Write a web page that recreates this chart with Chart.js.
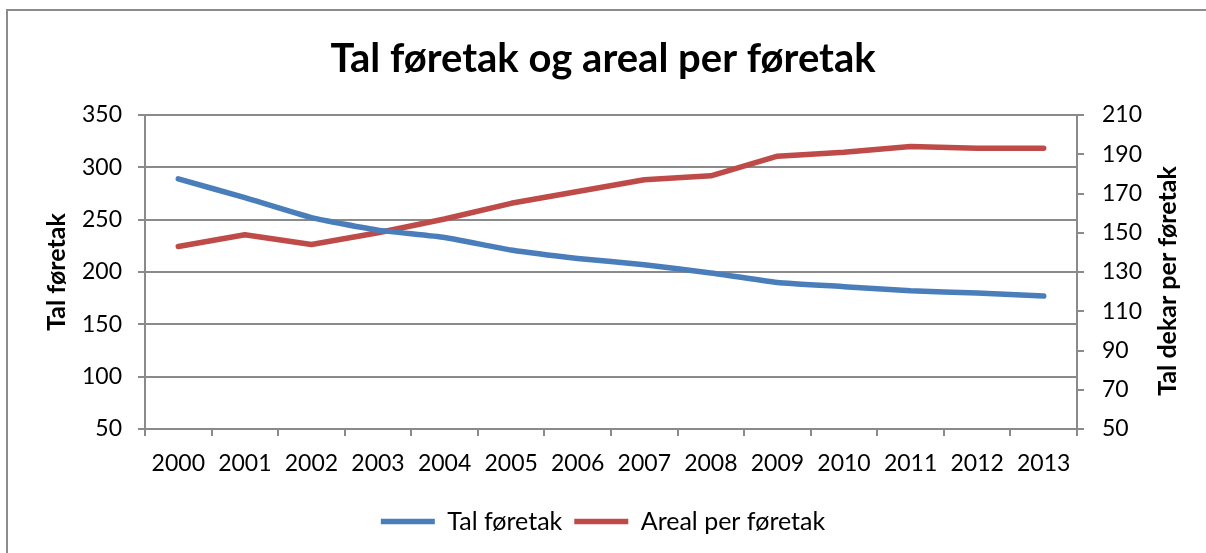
<!DOCTYPE html>
<html>
<head>
<meta charset="utf-8">
<script src="https://cdn.jsdelivr.net/npm/chart.js@4.4.0/dist/chart.umd.min.js"></script>
<style>
  html, body { margin: 0; padding: 0; background: #fff; overflow: hidden; }
  #wrap { position: relative; width: 1206px; height: 553px; }
  #frame { position: absolute; left: 6px; top: 9px; width: 1220px; height: 600px; border: 2px solid #8c8c8c; box-sizing: border-box; }
  canvas { position: absolute; left: 0; top: 0; }
</style>
</head>
<body>
<div id="wrap">
  <div id="frame"></div>
  <canvas id="chart" width="1206" height="553"></canvas>
</div>
<script>
const years = ['2000', '2001', '2002', '2003', '2004', '2005', '2006', '2007', '2008', '2009', '2010', '2011', '2012', '2013'];
const talForetak = [289, 271, 252, 240, 233, 221, 213, 207, 199, 190, 186, 182, 180, 177];
const arealPerForetak = [143, 149, 144, 150, 157, 165, 171, 177, 179, 189, 191, 194, 193, 193];
const leftTicks = [50, 100, 150, 200, 250, 300, 350];
const rightTicks = [50, 70, 90, 110, 130, 150, 170, 190, 210];

const FONT = 'Lato';
const GRID = '#8a8a8a';

// axis titles, both read bottom to top like the original
const axisTitles = {
    id: 'axisTitles',
    afterDraw(chart) {
        const ctx = chart.ctx;
        const area = chart.chartArea;
        ctx.save();
        ctx.fillStyle = '#000';
        ctx.font = 'bold 25px ' + FONT;
        ctx.textAlign = 'center';
        ctx.textBaseline = 'middle';

        ctx.save();
        ctx.translate(57, (area.top + area.bottom) / 2);
        ctx.rotate(-Math.PI / 2);
        ctx.fillText('Tal føretak', 0, 0);
        ctx.restore();

        ctx.save();
        ctx.translate(1168, (area.top + area.bottom) / 2 + 9);
        ctx.rotate(-Math.PI / 2);
        ctx.fillText('Tal dekar per føretak', 0, 0);
        ctx.restore();

        ctx.restore();
    }
};

new Chart(document.getElementById('chart'), {
    type: 'line',
    data: {
        labels: years,
        datasets: [{
            label: 'Tal føretak',
            data: talForetak,
            yAxisID: 'y',
            borderColor: '#4a7ebb',
            backgroundColor: '#4a7ebb',
            borderWidth: 5.5,
            pointRadius: 0,
            tension: 0.15,
            borderCapStyle: 'round',
            borderJoinStyle: 'round'
        }, {
            label: 'Areal per føretak',
            data: arealPerForetak,
            yAxisID: 'y1',
            borderColor: '#be4b48',
            backgroundColor: '#be4b48',
            borderWidth: 5.5,
            pointRadius: 0,
            tension: 0,
            borderCapStyle: 'round',
            borderJoinStyle: 'round'
        }]
    },
    options: {
        responsive: false,
        animation: false,
        events: [],
        layout: { padding: { top: 0, bottom: 9, left: 0, right: 0 } },
        plugins: {
            title: {
                display: true,
                text: 'Tal føretak og areal per føretak',
                color: '#000',
                font: { family: FONT, size: 40, weight: 'bold' },
                padding: { top: 35, bottom: 32 }
            },
            legend: {
                position: 'bottom',
                labels: {
                    color: '#000',
                    font: { family: FONT, size: 25 },
                    usePointStyle: true,
                    pointStyle: 'line',
                    pointStyleWidth: 54,
                    padding: 12
                }
            },
            tooltip: { enabled: false }
        },
        scales: {
            x: {
                offset: true,
                grid: { offset: true, drawOnChartArea: false, color: GRID, tickLength: 7, lineWidth: 2 },
                border: { color: GRID, width: 2 },
                ticks: { color: '#000', font: { family: FONT, size: 23 }, padding: 14, maxRotation: 0, autoSkip: false },
                afterFit(scale) { scale.height = 68; }
            },
            y: {
                position: 'left',
                min: 50,
                max: 350,
                afterBuildTicks(scale) { scale.ticks = leftTicks.map(v => ({ value: v })); },
                grid: { color: GRID, tickLength: 7, lineWidth: 2 },
                border: { color: GRID, width: 2 },
                ticks: { color: '#000', font: { family: FONT, size: 23 }, padding: 16 },
                afterFit(scale) { scale.width = 145; }
            },
            y1: {
                position: 'right',
                min: 50,
                max: 210,
                afterBuildTicks(scale) { scale.ticks = rightTicks.map(v => ({ value: v })); },
                grid: { drawOnChartArea: false, color: GRID, tickLength: 7, lineWidth: 2 },
                border: { color: GRID, width: 2 },
                ticks: { color: '#000', font: { family: FONT, size: 23 }, padding: 18 },
                afterFit(scale) { scale.width = 129; }
            }
        }
    },
    plugins: [axisTitles]
});
</script>
</body>
</html>
